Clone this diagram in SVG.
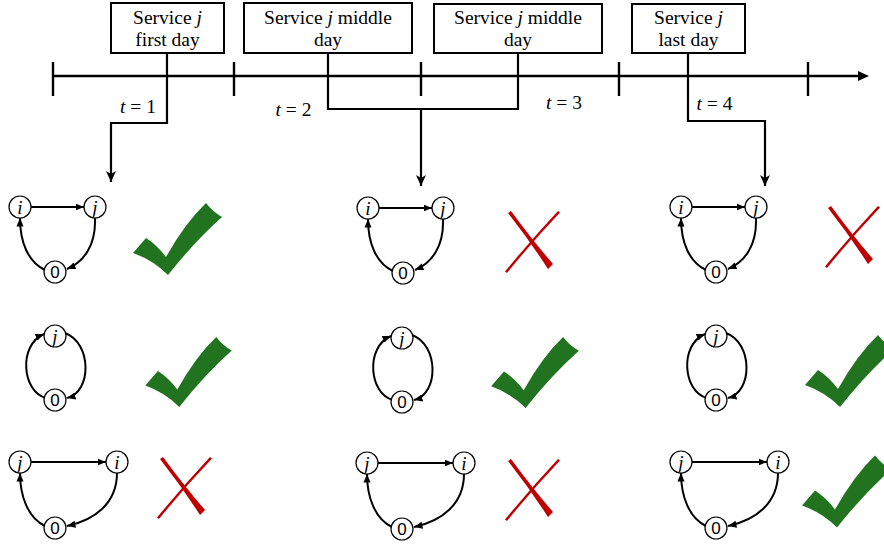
<svg xmlns="http://www.w3.org/2000/svg" width="884" height="545" viewBox="0 0 884 545">
<style>
.box{fill:#fff;stroke:#000;stroke-width:2}
.lbl{font-family:"Liberation Serif","Times New Roman","DejaVu Serif",serif;font-size:19.5px;fill:#000;text-anchor:middle}
.it{font-style:italic}
.tl{fill:none;stroke:#000;stroke-width:2.4}
.con{fill:none;stroke:#000;stroke-width:2.2}
.edge{fill:none;stroke:#000;stroke-width:2}
.node circle{fill:#fff;stroke:#000;stroke-width:1.2}
.nl{font-family:"Liberation Serif","DejaVu Serif",serif;font-style:italic;font-size:19px;text-anchor:middle}
.nz{font-family:"Liberation Sans","DejaVu Sans",sans-serif;font-size:17px;text-anchor:middle}
.chk{fill:#22731f}
.crs{fill:#c00000}
</style>
<defs>
<marker id="bigarrow" markerUnits="userSpaceOnUse" markerWidth="12" markerHeight="12" viewBox="0 0 12 12" refX="11" refY="6" orient="auto">
<path d="M0,1 L11,6 L0,11 L3,6 Z" fill="#000"/>
</marker>
<marker id="sa" markerUnits="userSpaceOnUse" markerWidth="9" markerHeight="9" viewBox="0 0 9 9" refX="8.5" refY="4.5" orient="auto">
<path d="M0,1 L8.5,4.5 L0,8 Z" fill="#000"/>
</marker>
<symbol id="check" viewBox="0 0 89 72" overflow="visible">
<path d="M0,50 L13,35 Q24,42 33,54 Q52,20 73,0 Q80,9 89,14 Q62,38 35,72 Q20,57 0,50 Z"/>
</symbol>
<symbol id="cross" viewBox="0 0 55 62" overflow="visible">
<path d="M3,2 L6,0 Q28,30 48,53 L43,58 Q25,30 3,2 Z"/>
<path d="M53,0 L55,1.5 Q27,31 2,62 L0,60.5 Q26,29 53,0 Z"/>
</symbol>
<g id="g-ij0">
<path class="edge" d="M31,207 L84,207" marker-end="url(#sa)"/>
<path class="edge" d="M95,218 C96,245 84,262 67,269" marker-end="url(#sa)"/>
<path class="edge" d="M45,270 C28,262 20,242 20,218" marker-end="url(#sa)"/>
<g class="node"><circle cx="20" cy="207" r="11"/><text class="nl" x="20" y="213.5">i</text></g>
<g class="node"><circle cx="95" cy="207" r="11"/><text class="nl" x="95" y="213.5">j</text></g>
<g class="node"><circle cx="55" cy="272" r="11"/><text class="nz" x="55" y="278">0</text></g>
</g>
<g id="g-j0">
<path class="edge" d="M46,398 C22,392 18,345 44,334" marker-end="url(#sa)"/>
<path class="edge" d="M65,333 C92,343 92,392 67,398" marker-end="url(#sa)"/>
<g class="node"><circle cx="55" cy="336" r="11"/><text class="nl" x="55" y="342.5">j</text></g>
<g class="node"><circle cx="55" cy="400" r="11"/><text class="nz" x="55" y="406">0</text></g>
</g>
<g id="g-ji0">
<path class="edge" d="M31,462 L106,462" marker-end="url(#sa)"/>
<path class="edge" d="M117,473 C117,503 95,520 67,526" marker-end="url(#sa)"/>
<path class="edge" d="M45,526 C28,518 20,496 20,473" marker-end="url(#sa)"/>
<g class="node"><circle cx="20" cy="462" r="11"/><text class="nl" x="20" y="468.5">j</text></g>
<g class="node"><circle cx="117" cy="462" r="11"/><text class="nl" x="117" y="468.5">i</text></g>
<g class="node"><circle cx="55" cy="528" r="11"/><text class="nz" x="55" y="534">0</text></g>
</g>
</defs>

<g id="timeline">
<path class="tl" d="M53,76 L860,76 M53,62 V96 M234,62 V96 M421,62 V96 M619,62 V96 M808,62 V96"/>
<path d="M858,71 L869,76 L858,81 Z" fill="#000"/>
</g>

<g id="connectors">
<path class="con" d="M167,53 V123 H111 V182" marker-end="url(#bigarrow)"/>
<path class="con" d="M328,53 V109 H518 V53"/>
<path class="con" d="M421,109 V186" marker-end="url(#bigarrow)"/>
<path class="con" d="M688,53 V121 H765 V186" marker-end="url(#bigarrow)"/>
</g>

<g id="box-first">
<rect class="box" x="111" y="3" width="113" height="50"/>
<text class="lbl" x="167.5" y="24">Service <tspan class="it">j</tspan></text>
<text class="lbl" x="167.5" y="46">first day</text>
</g>
<g id="box-middle1">
<rect class="box" x="244" y="3" width="168" height="50"/>
<text class="lbl" x="328" y="24">Service <tspan class="it">j</tspan> middle</text>
<text class="lbl" x="328" y="46">day</text>
</g>
<g id="box-middle2">
<rect class="box" x="434" y="4" width="168" height="49"/>
<text class="lbl" x="518" y="24">Service <tspan class="it">j</tspan> middle</text>
<text class="lbl" x="518" y="46">day</text>
</g>
<g id="box-last">
<rect class="box" x="632" y="4" width="113" height="49"/>
<text class="lbl" x="688.5" y="24">Service <tspan class="it">j</tspan></text>
<text class="lbl" x="688.5" y="46">last day</text>
</g>

<g id="period-labels">
<text class="lbl" x="138" y="113"><tspan class="it">t</tspan> = 1</text>
<text class="lbl" x="293.5" y="116"><tspan class="it">t</tspan> = 2</text>
<text class="lbl" x="564" y="109"><tspan class="it">t</tspan> = 3</text>
<text class="lbl" x="714.5" y="110"><tspan class="it">t</tspan> = 4</text>
</g>

<g id="graph-r1c1"><use href="#g-ij0"/></g>
<g id="graph-r1c2"><use href="#g-ij0" transform="translate(348,1)"/></g>
<g id="graph-r1c3"><use href="#g-ij0" transform="translate(661,0)"/></g>
<g id="graph-r2c1"><use href="#g-j0"/></g>
<g id="graph-r2c2"><use href="#g-j0" transform="translate(347,2)"/></g>
<g id="graph-r2c3"><use href="#g-j0" transform="translate(661,0)"/></g>
<g id="graph-r3c1"><use href="#g-ji0"/></g>
<g id="graph-r3c2"><use href="#g-ji0" transform="translate(347,1)"/></g>
<g id="graph-r3c3"><use href="#g-ji0" transform="translate(661,0)"/></g>

<g id="marks">
<use href="#check" class="chk" x="133" y="203" width="89" height="72"/>
<use href="#check" class="chk" x="145" y="337" width="87" height="70"/>
<use href="#check" class="chk" x="491" y="337" width="88" height="71"/>
<use href="#check" class="chk" x="805" y="335" width="89" height="72"/>
<use href="#check" class="chk" x="802" y="455" width="89" height="73"/>
<use href="#cross" class="crs" x="505" y="211" width="55" height="62"/>
<use href="#cross" class="crs" x="825" y="206" width="55" height="62"/>
<use href="#cross" class="crs" x="157" y="457" width="55" height="62"/>
<use href="#cross" class="crs" x="505" y="459" width="55" height="62"/>
</g>
</svg>
